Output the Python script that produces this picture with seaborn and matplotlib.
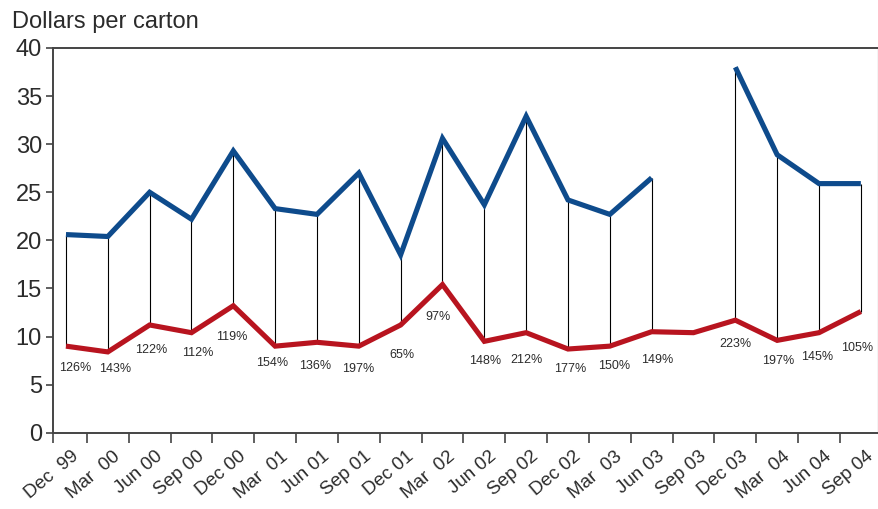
import numpy as np
import pandas as pd
import matplotlib
matplotlib.use("Agg")
import matplotlib.pyplot as plt
import matplotlib.transforms as mtransforms
import seaborn as sns

# Quarterly labels
quarters = ["Dec  99", "Mar  00", "Jun 00", "Sep 00", "Dec 00", "Mar  01", "Jun 01",
            "Sep 01", "Dec 01", "Mar  02", "Jun 02", "Sep 02", "Dec 02", "Mar  03",
            "Jun 03", "Sep 03", "Dec 03", "Mar  04", "Jun 04", "Sep 04"]

# Upper series (dollars per carton); no value for Sep 03
upper = [20.6, 20.4, 25.0, 22.2, 29.3, 23.3, 22.7, 27.0, 18.5, 30.6,
         23.7, 32.9, 24.2, 22.7, 26.5, np.nan, 38.0, 28.9, 25.9, 25.9]

# Lower series (dollars per carton)
lower = [9.0, 8.4, 11.2, 10.4, 13.2, 9.0, 9.4, 9.0, 11.2, 15.4,
         9.5, 10.4, 8.7, 9.0, 10.5, 10.4, 11.7, 9.6, 10.4, 12.6]

# Spread labels (none for Sep 03)
spread = ["126%", "143%", "122%", "112%", "119%", "154%", "136%", "197%", "65%", "97%",
          "148%", "212%", "177%", "150%", "149%", "", "223%", "197%", "145%", "105%"]

y_ticks = [0, 5, 10, 15, 20, 25, 30, 35, 40]

# Pixel offsets of each spread label from its point on the lower line
label_dx = [9, 7, 2, 6, -2, -3, -2, -1, 1, -4, 1, 0, 2, 4, 6, 0, 0, 1, -2, -4]
label_dy = [22, 17, 25, 20, 31, 17, 24, 23, 30, 32, 20, 27, 20, 20, 28, 0, 24, 21, 24, 36]

BLUE = "#0e4b8c"
RED = "#b8141f"
TXT = "#2b2b2b"

sns.set_theme(style="white")
plt.rcParams["font.family"] = ["Liberation Sans", "DejaVu Sans"]

idx = np.arange(len(quarters))
up = np.array(upper, dtype=float)
lo = np.array(lower, dtype=float)

# segment id so the upper line breaks where a value is missing
seg = np.cumsum(np.isnan(up))
df_up = pd.DataFrame({"x": idx, "y": up, "seg": seg}).dropna()
df_lo = pd.DataFrame({"x": idx, "y": lo})

fig = plt.figure(figsize=(8.79, 5.09), dpi=100)
ax = fig.add_axes([53 / 879, 1 - 432.7 / 509, (878 - 53) / 879, (432.7 - 48) / 509])

# thin connectors between the two series
have = ~np.isnan(up)
ax.vlines(idx[have], lo[have], up[have], color="black", linewidth=0.8, zorder=1)

sns.lineplot(data=df_up, x="x", y="y", units="seg", estimator=None, ax=ax,
             color=BLUE, linewidth=3.7, zorder=3, legend=False)
sns.lineplot(data=df_lo, x="x", y="y", ax=ax, color=RED, linewidth=3.7,
             zorder=3, legend=False)
for ln in ax.lines:
    ln.set_solid_joinstyle("miter")
    ln.set_solid_capstyle("butt")

for i, lab in enumerate(spread):
    if lab:
        ax.annotate(lab, (idx[i], lo[i]), xytext=(label_dx[i], -label_dy[i]),
                    textcoords="offset pixels", ha="center", va="center",
                    fontsize=9, color=TXT, annotation_clip=False)

ax.set_xlim(-0.31, 19.41)
ax.set_ylim(0, 40)
ax.set_yticks(y_ticks)
ax.set_yticklabels([str(v) for v in y_ticks], fontsize=17, color=TXT)
ax.tick_params(axis="y", direction="out", length=5, width=1.2, color="#444", pad=3, left=True)

ax.set_xticks(idx)
ax.set_xticklabels(quarters, rotation=40, ha="right", rotation_mode="anchor",
                   fontsize=13.5, color=TXT)
ax.tick_params(axis="x", which="major", length=0, pad=11)
# nudge the slanted quarter labels slightly to the right
shift = mtransforms.ScaledTranslation(5 / 100, 0, fig.dpi_scale_trans)
for t in ax.get_xticklabels():
    t.set_transform(t.get_transform() + shift)
ax.set_xticks(list(idx[:-1] + 0.5) + [-0.31], minor=True)
ax.tick_params(axis="x", which="minor", direction="out", length=7, width=1.2,
               color="#444", bottom=True)

ax.set_xlabel("")
ax.set_ylabel("")
for side in ["top", "left", "bottom"]:
    ax.spines[side].set_color("#444")
    ax.spines[side].set_linewidth(1.4)
ax.spines["right"].set_color("#c8c8c8")
ax.spines["right"].set_linewidth(1.0)

fig.text(12 / 879, 1 - 28 / 509, "Dollars per carton", fontsize=17, color=TXT,
         ha="left", va="baseline")

fig.savefig("out.png", dpi=100, facecolor="white")
